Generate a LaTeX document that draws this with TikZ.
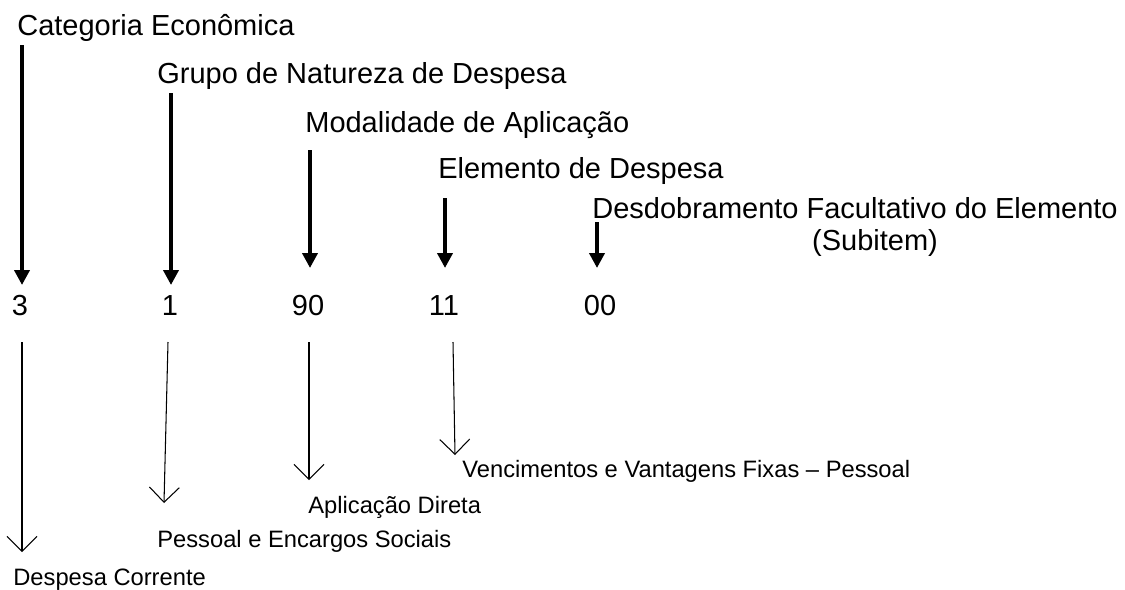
\documentclass[tikz,border=0pt]{standalone}
\usepackage{fontspec}
\setmainfont{Liberation Sans}
\usepackage{tikz}
\usetikzlibrary{arrows.meta, positioning}
\tikzset{
  headnode/.style={anchor=base west,inner sep=0pt,font=\fontsize{16.5}{19}\selectfont},
  codenode/.style={anchor=base,inner sep=0pt,font=\fontsize{16.5}{19}\selectfont},
  descnode/.style={anchor=base west,inner sep=0pt,font=\fontsize{13.5}{16}\selectfont},
  codearrow/.style={-{Triangle[length=8.5pt,width=8.5pt]},line width=2.8pt,black},
  descarrow/.style={-{Straight Barb[length=8.5pt,width=17pt]},line width=0.6pt,black},
}

\begin{document}
\begin{tikzpicture}[x=0.02cm,y=-0.02cm]
  \useasboundingbox (0,0) rectangle (1125,589);
  % headings
  \node[headnode] (nCat) at (17,35) {Categoria Econômica};
  \node[headnode] (nGrupo) at (157,83) {Grupo de Natureza de Despesa};
  \node[headnode] (nModal) at (305,132) {Modalidade de Aplicação};
  \node[headnode] (nElem) at (438,178) {Elemento de Despesa};
  \node[headnode] (nDesd) at (592,218) {Desdobramento Facultativo do Elemento};
  \node[codenode] (nSub) at (875,250) {(Subitem)};
  % code digits
  \node[codenode] (n3) at (20,315) {3};
  \node[codenode] (n1) at (170,315) {1};
  \node[codenode] (n90) at (308,315) {90};
  \node[codenode] (n11) at (444,315) {11};
  \node[codenode] (n00) at (600,315) {00};
  % meanings
  \node[descnode] (nCorr) at (13,585) {Despesa Corrente};
  \node[descnode] (nPess) at (157,547) {Pessoal e Encargos Sociais};
  \node[descnode] (nAplic) at (308,513) {Aplicação Direta};
  \node[descnode] (nVenc) at (462,477) {Vencimentos e Vantagens Fixas – Pessoal};
  % arrow ends
  \coordinate (cCatA) at (22,45);   \coordinate (cCatB) at (22,285);
  \coordinate (cGrupoA) at (171,93); \coordinate (cGrupoB) at (171,285);
  \coordinate (cModalA) at (310,150); \coordinate (cModalB) at (310,268);
  \coordinate (cElemA) at (445,198); \coordinate (cElemB) at (445,268);
  \coordinate (cDesdA) at (597,222); \coordinate (cDesdB) at (597,268);
  \coordinate (c3) at (22,342);   \coordinate (cCorr) at (22,552);
  \coordinate (c1) at (168,342);  \coordinate (cPess) at (164,503);
  \coordinate (c90) at (309,342); \coordinate (cAplic) at (309,480);
  \coordinate (c11) at (453,342); \coordinate (cVenc) at (455,455);
  \draw[codearrow] (cCatA) -- (cCatB);
  \draw[codearrow] (cGrupoA) -- (cGrupoB);
  \draw[codearrow] (cModalA) -- (cModalB);
  \draw[codearrow] (cElemA) -- (cElemB);
  \draw[codearrow] (cDesdA) -- (cDesdB);
  \draw[descarrow] (c3) -- (cCorr);
  \draw[descarrow] (c1) -- (cPess);
  \draw[descarrow] (c90) -- (cAplic);
  \draw[descarrow] (c11) -- (cVenc);
\end{tikzpicture}
\end{document}
